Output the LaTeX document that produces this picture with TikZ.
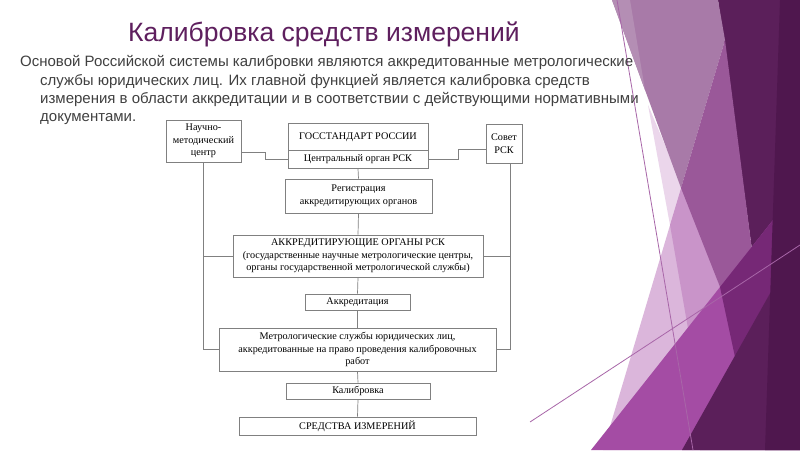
\documentclass[tikz,border=0pt]{standalone}
\usepackage{fontspec}
\setmainfont{Liberation Serif}
\newfontfamily\sansf{Liberation Sans}
\usetikzlibrary{calc}
\definecolor{titlec}{HTML}{5E1F5E}
\definecolor{bodyc}{HTML}{404040}
\definecolor{boxc}{HTML}{808080}
\definecolor{darkp}{HTML}{5B1F5A}
\definecolor{darkest}{HTML}{4F174E}
\definecolor{mauve}{HTML}{A87AA8}
\definecolor{sliver}{HTML}{B48EB4}
\definecolor{medp}{HTML}{9A5899}
\definecolor{lav}{HTML}{EBD6EB}
\definecolor{lpink}{HTML}{DBB6DB}
\definecolor{pinkp}{HTML}{C994C9}
\definecolor{magp}{HTML}{A44CA4}
\definecolor{magdark}{HTML}{762876}
\definecolor{thinl}{HTML}{A866A8}
\tikzset{
  box/.style={draw=boxc, line width=0.7pt, fill=white, align=center, inner sep=1pt,
    font=\fontsize{10.2}{12.5}\selectfont, text=black},
  conn/.style={draw=boxc, line width=0.7pt},
  bodyline/.style={anchor=base west, inner sep=0pt, text=bodyc, font=\sansf\fontsize{15}{18}\selectfont}
}
\begin{document}
\begin{tikzpicture}[x=1pt,y=-1pt]
\useasboundingbox (0,0) rectangle (800,450);
\fill[white] (0,0) rectangle (800,450);
% decorative facets
\fill[darkp] (718,0) -- (800,0) -- (800,450) -- (700,450) -- (752,250) -- cycle;
\fill[lpink] (682,185) -- (725,300) -- (700,450) -- (603,450) -- cycle;
\fill[lav] (648,105) -- (682,185) -- (670,225) -- cycle;
\fill[pinkp] (670,225) -- (682,185) -- (725,300) -- (690,340) -- cycle;
\fill[mauve] (612,0) -- (718,0) -- (725,40) -- (681,188) -- cycle;
\fill[sliver] (612,0) -- (630,0) -- (645,90) -- cycle;
\fill[medp] (725,40) -- (752,250) -- (722,292) -- (681,188) -- cycle;
\fill[magp] (591,450) -- (800,186) -- (800,450) -- cycle;
\fill[magdark] (720,287) -- (800,186) -- (800,240) -- (735,357) -- cycle;
\fill[darkp] (682,450) -- (800,240) -- (800,450) -- cycle;
\fill[darkest] (780,0) -- (800,0) -- (800,450) -- (765,450) -- cycle;
\draw[thinl, line width=0.8pt] (617,0) -- (693,450);
\draw[thinl, line width=0.8pt] (530,422) -- (800,245);
% title and body
\node[anchor=base, inner sep=0pt, text=titlec, font=\sansf\fontsize{26.5}{26.5}\selectfont] (title) at (324,41) {Калибровка средств измерений};
\node[bodyline] (l1) at (20,66) {Основой Российской системы калибровки являются аккредитованные метрологические};
\node[bodyline] (l2) at (40,85) {службы юридических лиц. Их главной функцией является калибровка средств};
\node[bodyline] (l3) at (40,103) {измерения в области аккредитации и в соответствии с действующими нормативными};
\node[bodyline] (l4) at (40,121) {документами.};
% boxes
\node[box, minimum width=75pt, minimum height=42pt] (nmc) at (203.5,141) {Научно-\\методический\\центр};
\node[box, minimum width=140pt, minimum height=28pt] (gos1) at (358,137) {ГОССТАНДАРТ РОССИИ};
\node[box, minimum width=140pt, minimum height=17.5pt] (gos2) at (358,159.5) {Центральный орган РСК};
\node[box, minimum width=36pt, minimum height=39pt] (sov) at (504,143.5) {Совет\\РСК};
\node[box, minimum width=147pt, minimum height=34pt] (reg) at (358.5,196) {Регистрация\\аккредитирующих органов};
\node[box, minimum width=250pt, minimum height=42pt] (akk) at (358,256) {АККРЕДИТИРУЮЩИЕ ОРГАНЫ РСК\\(государственные научные метрологические центры,\\органы государственной метрологической службы)};
\node[box, minimum width=105pt, minimum height=16pt] (akkr) at (357.5,302) {Аккредитация};
\node[box, minimum width=277pt, minimum height=43pt] (metr) at (357.5,349.5) {Метрологические службы юридических лиц,\\аккредитованные на право проведения калибровочных\\работ};
\node[box, minimum width=144pt, minimum height=16pt] (kal) at (358,391) {Калибровка};
\node[box, minimum width=237pt, minimum height=18pt] (sred) at (357.5,426) {СРЕДСТВА ИЗМЕРЕНИЙ};
% connectors
\coordinate (rv) at ([xshift=6pt]sov.south);
\draw[conn] ([yshift=-11pt]nmc.east) -- ++(24,0) |- (gos2.west);
\draw[conn] (gos2.east) -- ++(30,0) |- ([yshift=-5.5pt]sov.west);
\draw[conn] (gos2.south) -- (reg.north);
\draw[conn] (reg.south) -- (akk.north);
\draw[conn] (akk.south) -- (akkr.north);
\draw[conn] (akkr.south) -- (metr.north);
\draw[conn] (metr.south) -- (kal.north);
\draw[conn] (kal.south) -- (sred.north);
\draw[conn] (nmc.south) |- (metr.west);
\draw[conn] (akk.west) -- (akk.west -| nmc.south);
\draw[conn] (rv) |- (metr.east);
\draw[conn] (akk.east) -- (akk.east -| rv);
\end{tikzpicture}
\end{document}
